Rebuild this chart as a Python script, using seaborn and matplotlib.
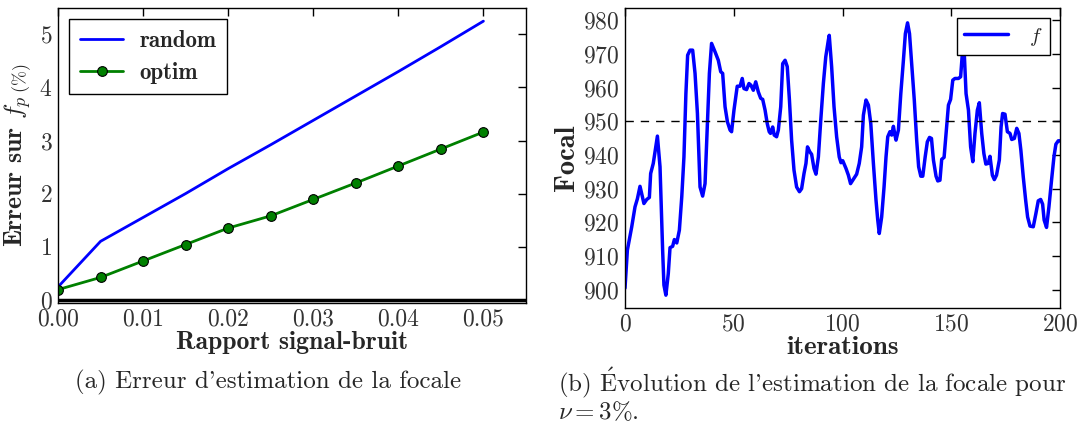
import matplotlib
matplotlib.use('Agg')
import matplotlib.pyplot as plt
import seaborn as sns
import pandas as pd

# left panel: estimation error vs noise level
snr = [0.0, 0.005, 0.01, 0.015, 0.02, 0.025, 0.03, 0.035, 0.04, 0.045, 0.05]
err_random = [0.24, 1.10, 1.55, 2.00, 2.47, 2.92, 3.38, 3.84, 4.30, 4.77, 5.25]
err_optim = [0.19, 0.42, 0.73, 1.04, 1.35, 1.58, 1.89, 2.20, 2.52, 2.84, 3.16]

# right panel: focal estimate along iterations
iters = [0, 1.1, 3.1, 4.6, 5.7, 6.9, 8.7, 10, 11.2, 11.8, 13, 14.9, 16.1, 17.3, 17.9,
         18.8, 19.9, 20.7, 21.9, 22.7, 23.8, 25, 26.1, 27.1, 28, 28.8, 29.9, 31.1,
         32.2, 33.3, 34.5, 35.7, 36.8, 37.9, 38.8, 39.8, 41.4, 42.9, 44, 44.9, 46,
         47.1, 48.3, 49, 50.1, 51.6, 52.9, 53.9, 54.7, 55.9, 57, 57.9, 59, 60.1,
         61.3, 62.4, 63.3, 64.4, 65.4, 66.3, 66.9, 67.9, 68.6, 69.7, 70.5, 71.6,
         72.5, 73.6, 74.6, 75.6, 76.6, 77.7, 78.9, 80.2, 81.2, 82.3, 83.2, 83.9,
         85, 85.8, 86.9, 87.8, 88.9, 90, 91.2, 92.3, 93.5, 93.9, 95, 96.1, 97.3,
         98.5, 99.3, 100.1, 101.6, 102.7, 103.7, 104.9, 106.5, 107.7, 108.8,
         109.6, 110.8, 111.9, 113, 114.2, 115.4, 116.2, 116.9, 118, 119.1, 120,
         120.8, 121.8, 122.6, 123.4, 124.1, 124.6, 125.7, 126.8, 128, 128.9,
         129.9, 130.8, 131.9, 133, 134.1, 135, 136, 136.9, 138, 139, 140, 140.9,
         141.8, 143, 143.8, 144.8, 145.6, 146.7, 147.6, 148.7, 149.7, 150.7,
         151.7, 153.3, 154.3, 155.1, 155.9, 156.8, 157.9, 158.9, 159.9, 160.9,
         162, 162.9, 164, 165, 165.9, 167, 167.8, 168.9, 169.8, 170.8, 172.1,
         172.9, 173.6, 174.7, 175.8, 177, 177.8, 179, 180.1, 181.1, 182, 183.1,
         184.2, 185.1, 186.2, 187.7, 188.9, 190, 191.1, 192, 192.7, 193.8, 194.9,
         196.1, 197.2, 198.1, 199.2, 200]
focal = [900.5, 911.8, 918.7, 924.6, 927, 930.7, 925.6, 926.8, 927.4, 934.5, 937.5,
         945.6, 936.5, 911.8, 901.4, 898.4, 904.8, 912.5, 912.9, 914.9, 913.9, 917.7,
         927.6, 939.4, 958.2, 969.6, 971.1, 971.1, 964.2, 952.3, 930.5, 927.8, 931.5,
         949.3, 964.2, 973.1, 970.6, 968.1, 964.7, 964.2, 954.3, 949.8, 947.4, 946.9,
         953.3, 960.4, 960.4, 962.7, 959.7, 959.4, 961.2, 960.7, 959.2, 961.7, 958.7,
         956.8, 956.5, 953.3, 949.3, 946.9, 946.4, 948.3, 945.9, 945.4, 947.4, 954.3,
         967.1, 968.1, 966.2, 956.3, 944.4, 935.5, 930.5, 929.1, 930, 934.5, 937.5,
         942.4, 940.9, 940.2, 936, 934.3, 939.4, 950.3, 961.2, 969.1, 974.1, 975.5,
         966.2, 954.3, 945.4, 939.4, 937.7, 938.3, 936, 934, 931.5, 932.7, 934.3,
         937.5, 942.4, 951.8, 956.3, 954.8, 949.3, 937.5, 926.6, 920.7, 916.7, 921.6,
         930.5, 939.4, 945.4, 946.9, 945.9, 948.5, 945.9, 944.4, 947.4, 958.2, 968.1,
         976, 979.2, 976, 966.2, 956.3, 944.4, 936.5, 933.7, 933.7, 939.4, 943.9,
         945.2, 944.9, 938.5, 933.7, 932.3, 932.5, 938.7, 939.3, 946.4, 954.8, 956.5,
         962.2, 962.7, 962.7, 963.2, 970.1, 971.3, 958.2, 953.3, 942.4, 938, 946.4,
         953.3, 955.5, 946.4, 940.4, 937.3, 937.5, 939.6, 934, 932.7, 934, 938.5,
         948.3, 952.3, 952.1, 946.9, 946.4, 944.6, 944.9, 947.9, 946.4, 941.4, 933.5,
         926.6, 921.6, 918.9, 918.7, 922.6, 926.4, 926.8, 925.4, 920.7, 918.5, 924.6,
         932.5, 939.4, 943.2, 944.2, 944.2]
focal_true = 950

sns.set_theme(style='white')
plt.rcParams['font.family'] = ['cmr10', 'DejaVu Serif']
plt.rcParams['mathtext.fontset'] = 'cm'
plt.rcParams['axes.formatter.use_mathtext'] = True
plt.rcParams['axes.unicode_minus'] = False
plt.rcParams['xtick.direction'] = 'in'
plt.rcParams['ytick.direction'] = 'in'

fig = plt.figure(figsize=(10.8, 4.26), dpi=100)
ax1 = fig.add_axes([0.0537, 0.289, 0.4333, 0.6925])
ax2 = fig.add_axes([0.5787, 0.277, 0.4028, 0.7042])

df1 = pd.DataFrame({'snr': snr, 'random': err_random, 'optim': err_optim})
sns.lineplot(data=df1, x='snr', y='random', ax=ax1, color='#0000ff', lw=2, label='random')
sns.lineplot(data=df1, x='snr', y='optim', ax=ax1, color='#008000', lw=2, marker='o',
             markersize=7, markeredgecolor='black', markerfacecolor='#008000',
             markeredgewidth=0.8, label='optim')
ax1.axhline(0, color='black', lw=2.5, zorder=1)
ax1.set_xlim(0, 0.055)
ax1.set_ylim(-0.06, 5.5)
ax1.set_xticks([0, 0.01, 0.02, 0.03, 0.04, 0.05])
ax1.set_xticklabels(['0.00', '0.01', '0.02', '0.03', '0.04', '0.05'])
ax1.set_yticks([0, 1, 2, 3, 4, 5])
ax1.set_xlabel('Rapport signal-bruit', fontsize=18.5, family='cmb10', labelpad=0)
ax1.set_ylabel(r'Erreur sur $f_{p\;(\%)}$', fontsize=18.5, family='cmb10', labelpad=4)
leg1 = ax1.legend(loc='upper left', prop={'family': 'cmb10', 'size': 16.5},
                  fancybox=False, edgecolor='black', framealpha=1,
                  handlelength=1.9, handletextpad=0.7, borderpad=0.45,
                  labelspacing=0.45)
leg1.get_frame().set_linewidth(1)

df2 = pd.DataFrame({'it': iters, 'focal': focal})
sns.lineplot(data=df2, x='it', y='focal', ax=ax2, color='#0000ff', lw=2.5,
             label=r'$f$', estimator=None)
ax2.axhline(focal_true, color='black', lw=1, ls=(0, (6, 5)))
ax2.set_xlim(0, 200)
ax2.set_ylim(894.6, 983.6)
ax2.set_xticks([0, 50, 100, 150, 200])
ax2.set_yticks(range(900, 981, 10))
ax2.set_xlabel('iterations', fontsize=19.5, family='cmb10', labelpad=0)
ax2.set_ylabel('Focal', fontsize=20.5, family='cmb10', labelpad=2)
leg2 = ax2.legend(loc='upper right', prop={'size': 15}, fancybox=False,
                  edgecolor='black', framealpha=1, handlelength=2.1,
                  handletextpad=1.0, borderpad=0.35)
leg2.get_frame().set_linewidth(1)

for ax in (ax1, ax2):
    ax.tick_params(axis='both', which='both', labelsize=17, length=6, width=1,
                   top=True, right=True, colors='black', labelcolor='#333333', pad=4)
    for s in ax.spines.values():
        s.set_color('black')
        s.set_linewidth(1)

fig.text(0.248, 0.103, "(a) Erreur d'estimation de la focale", ha='center',
         va='center', fontsize=18)
fig.text(0.517, 0.103, r"(b) $\mathrm{\acute{E}}$volution de l'estimation de la focale pour",
         ha='left', va='center', fontsize=18)
fig.text(0.517, 0.033, r'$\nu = 3\%$.', ha='left', va='center', fontsize=18)

fig.savefig('out.png', dpi=100)
